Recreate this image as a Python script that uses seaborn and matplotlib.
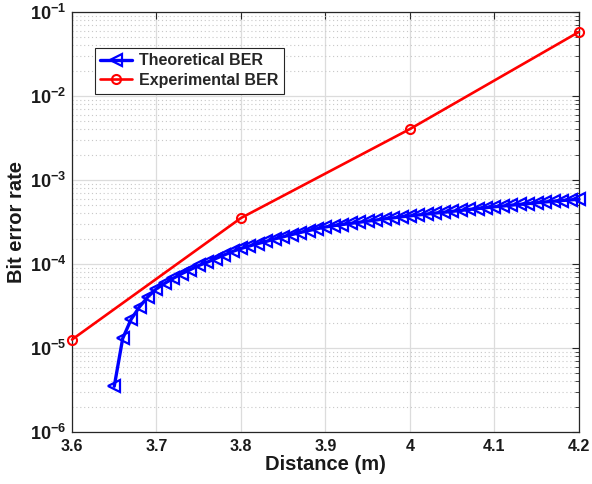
import matplotlib
matplotlib.use("Agg")
import matplotlib.pyplot as plt
import seaborn as sns
import pandas as pd
import numpy as np
from matplotlib.ticker import LogLocator, FixedLocator, NullFormatter

sns.set_style("white")
plt.rcParams['font.family'] = ['Liberation Sans', 'DejaVu Sans']
plt.rcParams['mathtext.fontset'] = 'custom'
plt.rcParams['mathtext.rm'] = 'Liberation Sans:bold'
plt.rcParams['mathtext.bf'] = 'Liberation Sans:bold'
plt.rcParams['mathtext.it'] = 'Liberation Sans:bold'

theory_x = [3.65, 3.66, 3.67, 3.68, 3.69, 3.70, 3.71, 3.72, 3.73, 3.74,
            3.75, 3.76, 3.77, 3.78, 3.79, 3.80, 3.81, 3.82, 3.83, 3.84,
            3.85, 3.86, 3.87, 3.88, 3.89, 3.90, 3.91, 3.92, 3.93, 3.94,
            3.95, 3.96, 3.97, 3.98, 3.99, 4.00, 4.01, 4.02, 4.03, 4.04,
            4.05, 4.06, 4.07, 4.08, 4.09, 4.10, 4.11, 4.12, 4.13, 4.14,
            4.15, 4.16, 4.17, 4.18, 4.19, 4.20]
theory_ber = [3.5e-6, 1.3e-5, 2.2e-5, 3.1e-5, 4.08e-5, 5.08e-5, 5.91e-5, 6.78e-5, 7.69e-5, 8.58e-5,
              9.6e-5, 1.05e-4, 1.16e-4, 1.28e-4, 1.41e-4, 1.53e-4, 1.64e-4, 1.75e-4, 1.86e-4, 1.99e-4,
              2.11e-4, 2.24e-4, 2.37e-4, 2.50e-4, 2.63e-4, 2.76e-4, 2.86e-4, 2.95e-4, 3.05e-4, 3.14e-4,
              3.24e-4, 3.34e-4, 3.45e-4, 3.54e-4, 3.65e-4, 3.74e-4, 3.84e-4, 3.93e-4, 4.04e-4, 4.13e-4,
              4.24e-4, 4.34e-4, 4.46e-4, 4.57e-4, 4.68e-4, 4.80e-4, 4.90e-4, 5.02e-4, 5.13e-4, 5.24e-4,
              5.36e-4, 5.48e-4, 5.59e-4, 5.70e-4, 5.80e-4, 5.90e-4]
exp_x = [3.6, 3.8, 4.0, 4.2]
exp_ber = [1.26e-5, 3.53e-4, 4.05e-3, 5.8e-2]

x_ticks = [3.6, 3.7, 3.8, 3.9, 4.0, 4.1, 4.2]
x_tick_labels = ["3.6", "3.7", "3.8", "3.9", "4", "4.1", "4.2"]
y_ticks = [1e-6, 1e-5, 1e-4, 1e-3, 1e-2, 1e-1]
y_tick_labels = [r"$10^{-6}$", r"$10^{-5}$", r"$10^{-4}$",
                 r"$10^{-3}$", r"$10^{-2}$", r"$10^{-1}$"]

df_t = pd.DataFrame({"Distance": theory_x, "BER": theory_ber})
df_e = pd.DataFrame({"Distance": exp_x, "BER": exp_ber})

fig = plt.figure(figsize=(5.92, 4.84), dpi=100)
ax = fig.add_axes([72/592, 1 - 432/484, (579 - 72)/592, (432 - 12)/484])

sns.lineplot(data=df_t, x="Distance", y="BER", ax=ax, color="#0000ff", lw=2.4,
             marker="<", markersize=8, markerfacecolor="none",
             markeredgecolor="#0000ff", markeredgewidth=1.6,
             label="Theoretical BER", zorder=3, clip_on=False)
sns.lineplot(data=df_e, x="Distance", y="BER", ax=ax, color="#ff0000", lw=1.9,
             marker="o", markersize=6.5, markerfacecolor="none",
             markeredgecolor="#ff0000", markeredgewidth=1.5,
             label="Experimental BER", zorder=3, clip_on=False)

ax.set_yscale("log")
ax.set_xlim(3.6, 4.2)
ax.set_ylim(1e-6, 1e-1)
ax.set_xticks(x_ticks)
ax.set_xticklabels(x_tick_labels, fontsize=11.5, fontweight="bold")
ax.yaxis.set_major_locator(FixedLocator(y_ticks))
ax.set_yticklabels(y_tick_labels, fontsize=13)
ax.yaxis.set_minor_locator(LogLocator(base=10, subs=np.arange(2, 10), numticks=20))
ax.yaxis.set_minor_formatter(NullFormatter())

ax.grid(True, which="major", color="#dcdcdc", lw=0.9, ls="-")
ax.grid(True, which="minor", axis="y", color="#c8c8c8", lw=0.8, ls=(0, (1, 2.5)))
ax.set_axisbelow(True)

ax.tick_params(which="both", direction="in", top=True, right=True, colors="#262626",
               labelcolor="#1a1a1a")
ax.tick_params(which="major", length=5, width=0.8, pad=5)
ax.tick_params(axis="y", which="major", pad=4)
ax.tick_params(which="minor", length=3, width=0.6)
for s in ax.spines.values():
    s.set_color("#262626")
    s.set_linewidth(0.9)

ax.set_xlabel("Distance (m)", fontsize=14.5, fontweight="bold", labelpad=1, color="#1a1a1a")
ax.set_ylabel("Bit error rate", fontsize=14.5, fontweight="bold", labelpad=3, color="#1a1a1a")

leg = ax.legend(loc="upper left", bbox_to_anchor=(0.045, 0.915),
                prop={"weight": "bold", "size": 11.5}, frameon=True, fancybox=False,
                edgecolor="#262626", framealpha=1, borderpad=0.35, handlelength=2.0,
                labelspacing=0.3, handletextpad=0.4, borderaxespad=0)
leg.get_frame().set_linewidth(0.8)

fig.savefig("out.png", dpi=100)
